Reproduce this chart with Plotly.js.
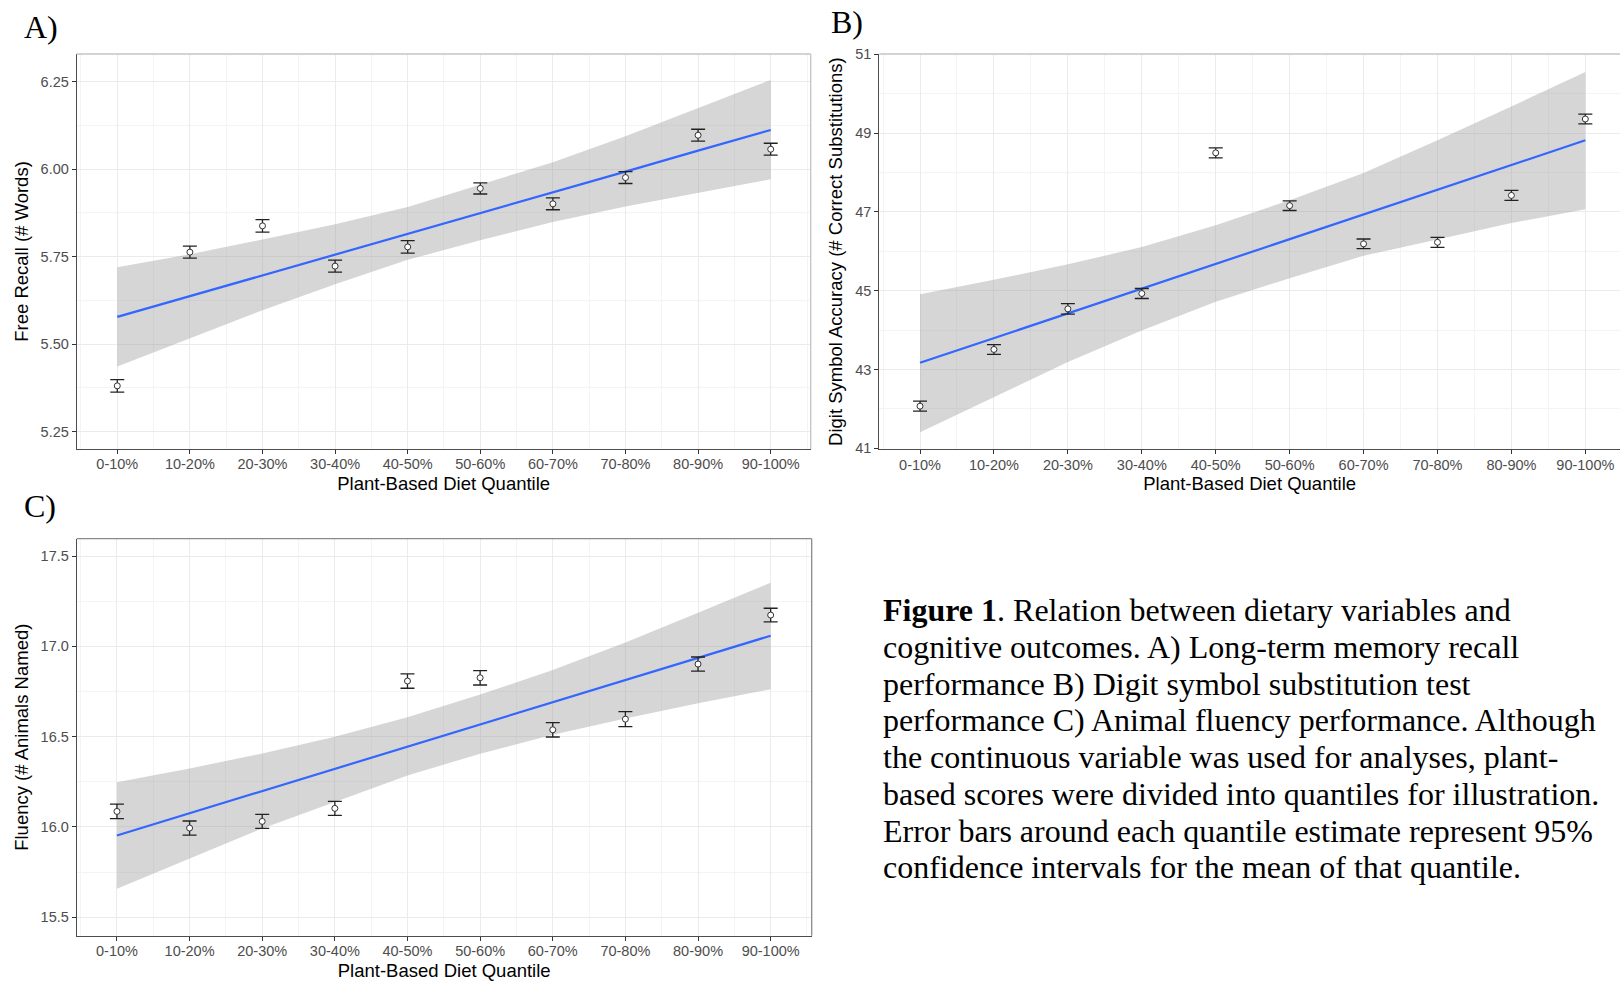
<!DOCTYPE html>
<html>
<head>
<meta charset="utf-8">
<script src="https://cdn.plot.ly/plotly-3.0.1.min.js"></script>
<style>html,body{margin:0;padding:0;background:#fff;}#chart{width:1620px;height:982px;}</style>
</head>
<body>
<div id="chart"></div>
<script>
// ---- data ----
const categories = ['0-10%','10-20%','20-30%','30-40%','40-50%','50-60%','60-70%','70-80%','80-90%','90-100%'];

// Panel A: Free Recall (# Words)
const meanA  = [5.381, 5.763, 5.838, 5.723, 5.778, 5.945, 5.901, 5.976, 6.097, 6.057];
const errA   = [0.018, 0.017, 0.018, 0.017, 0.018, 0.016, 0.017, 0.017, 0.017, 0.017];
const fitA   = [5.578, 5.637, 5.697, 5.756, 5.815, 5.875, 5.934, 5.993, 6.053, 6.112];
const bandHiA = [5.720, 5.757, 5.799, 5.843, 5.892, 5.955, 6.020, 6.094, 6.174, 6.255];
const bandLoA = [5.436, 5.517, 5.597, 5.671, 5.741, 5.797, 5.849, 5.893, 5.933, 5.971];
const yTicksA = [5.25, 5.50, 5.75, 6.00, 6.25];
const yTickTextA = ['5.25', '5.50', '5.75', '6.00', '6.25'];

// Panel B: Digit Symbol Accuracy (# Correct Substitutions)
const meanB  = [42.07, 43.51, 44.54, 44.93, 48.50, 47.16, 46.19, 46.23, 47.42, 49.36];
const errB   = [0.127, 0.123, 0.131, 0.127, 0.127, 0.123, 0.123, 0.127, 0.127, 0.123];
const fitB   = [43.17, 43.80, 44.43, 45.05, 45.69, 46.31, 46.94, 47.57, 48.19, 48.82];
const bandHiB = [44.91, 45.28, 45.67, 46.11, 46.66, 47.30, 47.99, 48.82, 49.68, 50.55];
const bandLoB = [41.41, 42.30, 43.19, 43.99, 44.72, 45.32, 45.89, 46.30, 46.72, 47.07];
const yTicksB = [41, 43, 45, 47, 49, 51];
const yTickTextB = ['41', '43', '45', '47', '49', '51'];

// Panel C: Fluency (# Animals Named)
const meanC  = [16.086, 15.994, 16.031, 16.103, 16.808, 16.826, 16.538, 16.597, 16.902, 17.173];
const errC   = [0.040, 0.039, 0.039, 0.039, 0.040, 0.040, 0.040, 0.042, 0.039, 0.038];
const fitC   = [15.953, 16.076, 16.199, 16.322, 16.445, 16.568, 16.690, 16.813, 16.936, 17.059];
const bandHiC = [16.247, 16.324, 16.407, 16.500, 16.607, 16.733, 16.869, 17.021, 17.186, 17.352];
const bandLoC = [15.658, 15.826, 15.992, 16.138, 16.285, 16.406, 16.510, 16.600, 16.685, 16.762];
const yTicksC = [15.5, 16.0, 16.5, 17.0, 17.5];
const yTickTextC = ['15.5', '16.0', '16.5', '17.0', '17.5'];

const xTitle = 'Plant-Based Diet Quantile';
const yTitleA = 'Free Recall (# Words)';
const yTitleB = 'Digit Symbol Accuracy (# Correct Substitutions)';
const yTitleC = 'Fluency (# Animals Named)';

const captionLines = [
  '<b>Figure 1</b>. Relation between dietary variables and',
  'cognitive outcomes. A) Long-term memory recall',
  'performance B) Digit symbol substitution test',
  'performance C) Animal fluency performance. Although',
  'the continuous variable was used for analyses, plant-',
  'based scores were divided into quantiles for illustration.',
  'Error bars around each quantile estimate represent 95%',
  'confidence intervals for the mean of that quantile.'
];

// ---- build ----
const W = 1620, H = 982;
const idx = categories.map((c, i) => i);
const SANS = '"Liberation Sans", Arial, sans-serif';
const SERIF = '"Liberation Serif", "Times New Roman", serif';

function panelTraces(xa, ya, mean, err, fit, hi, lo) {
  return [
    {x: idx, y: lo, xaxis: xa, yaxis: ya, mode: 'lines', line: {width: 0, color: 'rgba(0,0,0,0)'},
     hoverinfo: 'skip', showlegend: false},
    {x: idx, y: hi, xaxis: xa, yaxis: ya, mode: 'lines', line: {width: 0, color: 'rgba(0,0,0,0)'},
     fill: 'tonexty', fillcolor: 'rgba(153,153,153,0.4)', hoverinfo: 'skip', showlegend: false},
    {x: idx, y: fit, xaxis: xa, yaxis: ya, mode: 'lines', line: {width: 2.2, color: '#3366FF'},
     showlegend: false},
    {x: idx, y: mean, xaxis: xa, yaxis: ya, mode: 'markers', showlegend: false,
     marker: {symbol: 'circle', size: 6, color: '#ffffff', line: {color: '#333333', width: 1}},
     error_y: {type: 'data', array: err, visible: true, color: '#222222', thickness: 1.3, width: 7}}
  ];
}

function xAxis(domain, range, anchor) {
  return {
    domain: domain, range: range, anchor: anchor,
    tickmode: 'array', tickvals: idx, ticktext: categories,
    ticks: 'outside', ticklen: 4, tickwidth: 1, tickcolor: '#333333',
    ticklabelstandoff: -2,
    tickfont: {family: SANS, size: 14.5, color: '#4d4d4d'},
    showgrid: true, gridcolor: '#ebebeb', gridwidth: 1,
    minor: {tick0: 0.5, dtick: 1, showgrid: true, gridcolor: '#f4f4f4', gridwidth: 1},
    zeroline: false, showline: true, linecolor: '#4d4d4d', linewidth: 1,
    title: {text: xTitle, font: {family: SANS, size: 18.5, color: '#000'}, standoff: 5},
    fixedrange: true
  };
}

function yAxis(domain, range, anchor, tv, tt, minor, title) {
  return {
    domain: domain, range: range, anchor: anchor,
    tickmode: 'array', tickvals: tv, ticktext: tt,
    ticks: 'outside', ticklen: 4, tickwidth: 1, tickcolor: '#333333',
    tickfont: {family: SANS, size: 14.5, color: '#4d4d4d'},
    showgrid: true, gridcolor: '#ebebeb', gridwidth: 1,
    minor: {tick0: minor[0], dtick: minor[1], showgrid: true, gridcolor: '#f4f4f4', gridwidth: 1},
    zeroline: false, showline: true, linecolor: '#4d4d4d', linewidth: 1,
    title: {text: title, font: {family: SANS, size: 18.5, color: '#000'}, standoff: 7},
    fixedrange: true
  };
}

const px = v => v / W;
const py = v => 1 - v / H;

const data = [].concat(
  panelTraces('x', 'y', meanA, errA, fitA, bandHiA, bandLoA),
  panelTraces('x2', 'y2', meanB, errB, fitB, bandHiB, bandLoB),
  panelTraces('x3', 'y3', meanC, errC, fitC, bandHiC, bandLoC)
);

function borderShapes(xa, ya, color, right) {
  const s = [{type: 'line', xref: xa + ' domain', yref: ya + ' domain', x0: 0, x1: 1, y0: 1, y1: 1,
              line: {color: color, width: 1.3}}];
  if (right) s.push({type: 'line', xref: xa + ' domain', yref: ya + ' domain', x0: 1, x1: 1, y0: 0, y1: 1,
              line: {color: color, width: 1.3}});
  return s;
}

const annotations = [
  {text: 'A)', x: px(22), y: py(27), xref: 'paper', yref: 'paper', xanchor: 'left', yanchor: 'middle',
   showarrow: false, font: {family: SERIF, size: 32, color: '#000'}},
  {text: 'B)', x: px(829), y: py(22), xref: 'paper', yref: 'paper', xanchor: 'left', yanchor: 'middle',
   showarrow: false, font: {family: SERIF, size: 32, color: '#000'}},
  {text: 'C)', x: px(22), y: py(506), xref: 'paper', yref: 'paper', xanchor: 'left', yanchor: 'middle',
   showarrow: false, font: {family: SERIF, size: 32, color: '#000'}}
];
captionLines.forEach((t, i) => {
  annotations.push({text: t, x: px(881), y: py(610 + i * 36.75), xref: 'paper', yref: 'paper',
    xanchor: 'left', yanchor: 'middle', align: 'left', showarrow: false,
    font: {family: SERIF, size: 32, color: '#000'}});
});

const layout = {
  width: W, height: H,
  margin: {l: 0, r: 0, t: 0, b: 0, pad: 0},
  paper_bgcolor: '#ffffff', plot_bgcolor: '#ffffff',
  showlegend: false,
  xaxis:  xAxis([px(76.7), px(810.7)], [-0.559, 9.551], 'y'),
  yaxis:  yAxis([py(449), py(54)], [5.2006, 6.329], 'x', yTicksA, yTickTextA, [5.125, 0.25], yTitleA),
  xaxis2: xAxis([px(879.3), 1], [-0.551, 9.469], 'y2'),
  yaxis2: yAxis([py(449.3), py(54)], [40.975, 51.01], 'x2', yTicksB, yTickTextB, [40, 2], yTitleB),
  xaxis3: xAxis([px(76.7), px(811.7)], [-0.554, 9.565], 'y3'),
  yaxis3: yAxis([py(935.7), py(538.7)], [15.398, 17.596], 'x3', yTicksC, yTickTextC, [15.25, 0.5], yTitleC),
  shapes: [].concat(
    borderShapes('x', 'y', '#c4c4c4', true),
    borderShapes('x2', 'y2', '#c4c4c4', false),
    borderShapes('x3', 'y3', '#8a8a8a', true)
  ),
  annotations: annotations
};

Plotly.newPlot('chart', data, layout, {displayModeBar: false, staticPlot: true});
</script>
</body>
</html>
